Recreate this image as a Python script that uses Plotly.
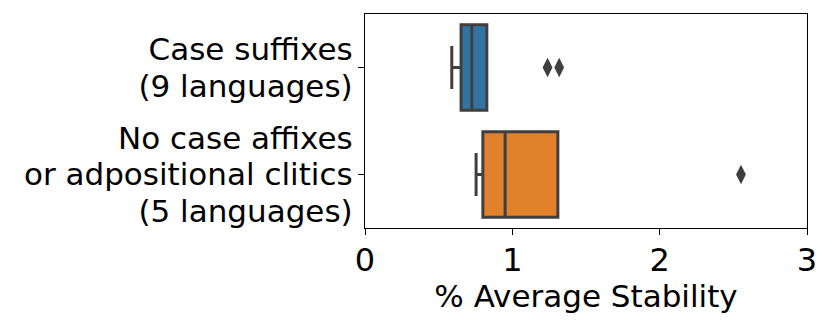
import plotly.graph_objects as go

categories = ["Case suffixes<br>(9 languages)",
              "No case affixes<br>or adpositional clitics<br>(5 languages)"]
colors = ["#3274a1", "#e1812c"]
lower_whisker = [0.589, 0.754]
q1 = [0.652, 0.800]
median = [0.725, 0.951]
q3 = [0.827, 1.309]
upper_whisker = [0.827, 1.309]
outliers = [[1.239, 1.318], [2.552]]
x_ticks = [0, 1, 2, 3]

positions = list(range(len(categories)))
LINE_STEP = 0.34  # label line spacing, in category units

# each label line becomes its own tick label so the line spacing matches
label_vals, label_text = [], []
for pos, cat in zip(positions, categories):
    lines = cat.split("<br>")
    n = len(lines)
    for k, line in enumerate(lines):
        off = (k - (n - 1) / 2) * LINE_STEP
        if abs(off) < 1e-9:
            off = 1e-4
        label_vals.append(pos + off)
        label_text.append(line)

fig = go.Figure()
for i, pos in enumerate(positions):
    fig.add_trace(go.Box(
        y=[pos], orientation="h",
        q1=[q1[i]], median=[median[i]], q3=[q3[i]],
        lowerfence=[lower_whisker[i]], upperfence=[upper_whisker[i]],
        fillcolor=colors[i], line=dict(color="#3f3f3f", width=3),
        whiskerwidth=0.5, width=0.8, boxpoints=False, showlegend=False,
        name=categories[i].replace("<br>", " "),
    ))
    fig.add_trace(go.Scatter(
        x=outliers[i], y=[pos] * len(outliers[i]), mode="markers",
        marker=dict(symbol="diamond-tall", size=14, color="#3f3f3f"),
        showlegend=False,
    ))

font = "DejaVu Sans"
fig.update_layout(
    width=831, height=327,
    margin=dict(l=357, r=32, t=6, b=107),
    paper_bgcolor="white", plot_bgcolor="white",
    font=dict(family=font, size=31, color="black"),
)
fig.update_xaxes(
    range=[0, 3], tickvals=x_ticks, ticks="outside", ticklen=6,
    tickwidth=1.2, tickcolor="black", showgrid=False, zeroline=False,
    showline=True, linecolor="black", linewidth=1.2, mirror=True,
    tickfont=dict(size=32), ticklabelstandoff=-3,
    title=dict(text="% Average Stability", font=dict(size=31), standoff=0),
)
fig.update_yaxes(
    range=[1.5, -0.5], tickmode="array", tickvals=label_vals,
    ticktext=label_text, ticks="", ticklabelstandoff=5,
    minor=dict(tickmode="array", tickvals=positions, ticks="outside",
               ticklen=6, tickwidth=1.2, tickcolor="black", showgrid=False),
    showgrid=False, zeroline=False,
    showline=True, linecolor="black", linewidth=1.2, mirror=True,
    tickfont=dict(size=31),
)
fig.write_html("out.html")
